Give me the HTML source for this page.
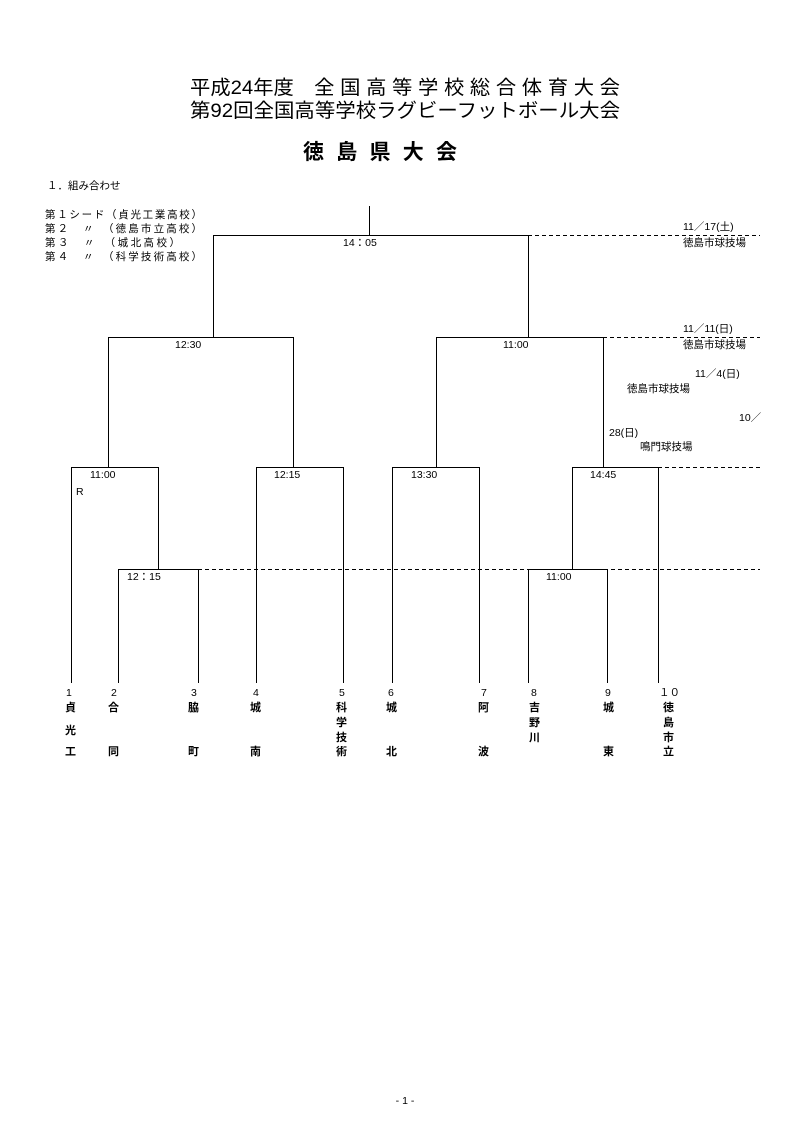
<!DOCTYPE html>
<html><head><meta charset="utf-8"><style>
html,body{margin:0;padding:0;background:#fff}
svg{display:block}
text{font-family:"Liberation Sans","Noto Sans CJK JP",sans-serif;fill:#000}
.s{font-size:10.5px}
.m{font-family:"Liberation Mono","Noto Sans CJK JP",monospace;font-size:10.5px}
.b{font-size:11px;font-weight:bold}
</style></head><body>
<svg width="810" height="1145" viewBox="0 0 810 1145" xmlns="http://www.w3.org/2000/svg">
<g fill="none" stroke="#000" stroke-width="1">
<path d="M369.5 206V235.5M213.5 337V235.5H528.5V337"/>
<path d="M108.5 467V337.5H293.5V467M436.5 467V337.5H603.5V467"/>
<path d="M71.5 683V467.5H158.5V569M256.5 683V467.5H343.5V683M392.5 683V467.5H479.5V683M572.5 569V467.5H658.5V683"/>
<path d="M118.5 683V569.5H198.5V683M528.5 683V569.5H607.5V683"/>
<path stroke-dasharray="4,3" d="M528 235.5H760M603 337.5H760M658 467.5H760M198 569.5H760"/>
</g>
<text x="190" y="94" style="font-size:19.5px" textLength="430" lengthAdjust="spacingAndGlyphs">平成24年度　全 国 高 等 学 校 総 合 体 育 大 会</text>
<text x="190" y="117" style="font-size:19.5px" textLength="430" lengthAdjust="spacingAndGlyphs">第92回全国高等学校ラグビーフットボール大会</text>
<text x="303" y="159" style="font-size:21px;font-weight:bold" textLength="154" lengthAdjust="spacing">徳島県大会</text>
<text x="405" y="1104" class="s" text-anchor="middle">- 1 -</text>
<text x="47" y="189" class="s">１．組み合わせ</text>
<text x="45" y="218" class="s" textLength="157">第１シード（貞光工業高校）</text>
<text x="45" y="232" class="s" textLength="157">第２　〃　（徳島市立高校）</text>
<text x="45" y="246" class="s" textLength="135">第３　〃　（城北高校）</text>
<text x="45" y="260" class="s" textLength="157">第４　〃　（科学技術高校）</text>
<g class="m">
<text x="343" y="246">14：05</text>
<text x="175" y="348">12:30</text>
<text x="503" y="348">11:00</text>
<text x="90" y="478">11:00</text>
<text x="76" y="495">R</text>
<text x="274" y="478">12:15</text>
<text x="411" y="478">13:30</text>
<text x="590" y="478">14:45</text>
<text x="127" y="580">12：15</text>
<text x="546" y="580">11:00</text>
<text x="683" y="230">11／17(土)</text>
<text x="683" y="332">11／11(日)</text>
<text x="695" y="377">11／4(日)</text>
<text x="739" y="421">10／</text>
<text x="609" y="436">28(日)</text>
</g>
<g class="s">
<text x="683" y="246">徳島市球技場</text>
<text x="683" y="348">徳島市球技場</text>
<text x="627" y="392">徳島市球技場</text>
<text x="640" y="450">鳴門球技場</text>
</g>
<g class="s">
<text x="66" y="696">1</text><text x="111" y="696">2</text><text x="191" y="696">3</text><text x="253" y="696">4</text><text x="339" y="696">5</text><text x="388" y="696">6</text><text x="481" y="696">7</text><text x="531" y="696">8</text><text x="605" y="696">9</text><text x="659" y="696">１０</text>
</g>
<g class="b">
<text x="65" y="711">貞</text><text x="65" y="734">光</text><text x="65" y="755">工</text>
<text x="108" y="711">合</text><text x="108" y="755">同</text>
<text x="188" y="711">脇</text><text x="188" y="755">町</text>
<text x="250" y="711">城</text><text x="250" y="755">南</text>
<text x="336" y="711">科</text><text x="336" y="726">学</text><text x="336" y="741">技</text><text x="336" y="755">術</text>
<text x="386" y="711">城</text><text x="386" y="755">北</text>
<text x="478" y="711">阿</text><text x="478" y="755">波</text>
<text x="529" y="711">吉</text><text x="529" y="726">野</text><text x="529" y="741">川</text>
<text x="603" y="711">城</text><text x="603" y="755">東</text>
<text x="663" y="711">徳</text><text x="663" y="726">島</text><text x="663" y="741">市</text><text x="663" y="755">立</text>
</g>
</svg>
</body></html>
